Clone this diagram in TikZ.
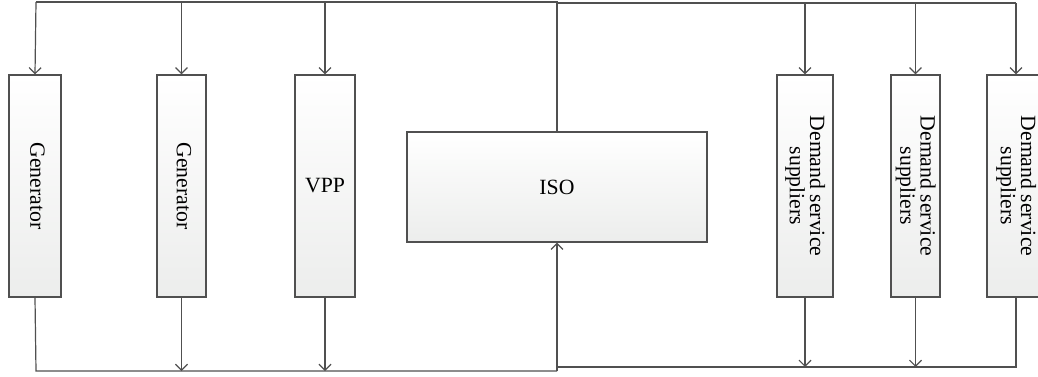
\documentclass[tikz,border=0pt]{standalone}
\usepackage{fontspec}
\setmainfont{Liberation Serif}
\usetikzlibrary{arrows.meta}

\definecolor{linegray}{HTML}{505050}
\definecolor{boxbottom}{HTML}{ECEDEC}

% text that runs down the box
\newcommand{\downtext}[1]{\rotatebox{-90}{\begin{tabular}{@{}c@{}}#1\end{tabular}}}

\tikzset{
  unit/.style={draw=linegray, line width=0.9pt, top color=white, bottom color=boxbottom,
    inner sep=0pt, font=\fontsize{16.3}{13}\selectfont, minimum height=166.5pt},
  wire/.style={draw=linegray, line width=0.9pt},
  feed/.style={wire, -{Straight Barb[length=4.5pt, width=9pt, line width=0.9pt]}}
}

\begin{document}
\begin{tikzpicture}[x=0.75pt, y=-0.75pt]
\useasboundingbox (0,0) rectangle (1038,376);
% units
\node[unit, minimum width=39pt] (gen1) at (35,186) {\downtext{Generator}};
\node[unit, minimum width=36.75pt] (gen2) at (181.5,186) {\downtext{Generator}};
\node[unit, minimum width=45pt] (vpp) at (325,186) {VPP};
\node[unit, minimum width=225pt, minimum height=82.5pt] (iso) at (557,187) {ISO};
\node[unit, minimum width=42pt] (dsa) at (805,186) {\downtext{Demand service\\suppliers}};
\node[unit, minimum width=36.75pt] (dsb) at (915.5,186) {\downtext{Demand service\\suppliers}};
\node[unit, minimum width=43.5pt] (dsc) at (1016,186) {\downtext{Demand service\\suppliers}};
% bus corners
\coordinate (topL) at (36,2);
\coordinate (topM) at (557,2);
\coordinate (topR) at (1016,3);
\coordinate (botL) at (36,371);
\coordinate (botM) at (557,371);
\coordinate (botR) at (1016,367);
% top bus
\draw[wire] (iso.north) -- (topM) -- (topL);
\draw[wire] (topM |- topR) -- (topR);
\draw[feed] (topL) -- (gen1.north);
\draw[feed] (gen2.north |- topL) -- (gen2.north);
\draw[feed] (vpp.north |- topL) -- (vpp.north);
\draw[feed] (dsa.north |- topR) -- (dsa.north);
\draw[feed] (dsb.north |- topR) -- (dsb.north);
\draw[feed] (topR) -- (dsc.north);
% bottom bus
\draw[wire] (gen1.south) -- (botL) -- (botM);
\draw[feed] (gen2.south) -- (gen2.south |- botL);
\draw[feed] (vpp.south) -- (vpp.south |- botL);
\draw[feed] (botM) -- (iso.south);
\draw[wire] (botM |- botR) -- (botR) -- (dsc.south);
\draw[feed] (dsa.south) -- (dsa.south |- botR);
\draw[feed] (dsb.south) -- (dsb.south |- botR);
\end{tikzpicture}
\end{document}
